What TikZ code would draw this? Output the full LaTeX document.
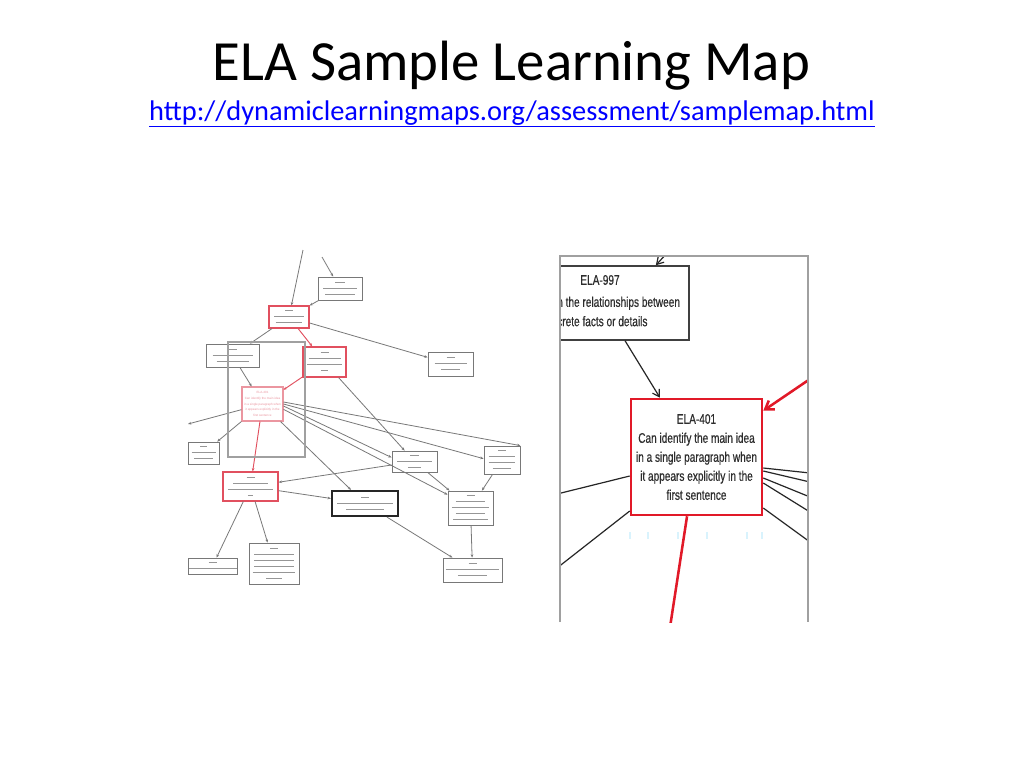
\documentclass[tikz,border=0pt]{standalone}
\usepackage{fontspec}
\setmainfont{Carlito}
\newfontfamily\arialf{Liberation Sans}
\newfontfamily\narrowf[FakeStretch=0.72,FakeBold=0.5]{Liberation Sans}
\usetikzlibrary{arrows.meta,calc}
\definecolor{linkblue}{RGB}{0,0,255}
\definecolor{barc}{RGB}{150,150,150}
\definecolor{lgray}{RGB}{120,120,120}
\definecolor{framegray}{RGB}{160,160,160}
\definecolor{pinkred}{RGB}{225,80,95}
\definecolor{lightpink}{RGB}{235,150,160}
\definecolor{boxred}{RGB}{225,25,40}
\definecolor{textdark}{RGB}{45,45,45}
\newcommand\tb[1]{\textcolor{barc}{\rule[0.3pt]{#1pt}{0.9pt}}}
\begin{document}
\begin{tikzpicture}[x=0.75pt,y=-0.75pt,
  lbox/.style={draw=lgray,fill=white,line width=0.6pt,inner sep=0pt,align=center,
    font=\fontsize{3}{4.5}\selectfont},
  lred/.style={lbox,draw=pinkred,line width=0.9pt},
  lpink/.style={lbox,draw=lightpink,line width=0.8pt},
  lthick/.style={lbox,draw=black!85,line width=1.6pt},
  le/.style={draw=lgray,line width=0.6pt,-{Stealth[length=2.5pt,width=2pt]}},
  lre/.style={le,draw=pinkred,line width=0.7pt},
  rbox/.style={draw=boxred,fill=white,line width=1.9pt,inner sep=0pt,align=center,
    text=textdark,font=\narrowf\fontsize{10.5}{14.25}\selectfont},
  gbox/.style={draw=black!75,fill=white,line width=1.1pt,inner sep=0pt},
  rtxt/.style={inner sep=0pt,text=textdark,font=\narrowf\fontsize{10.5}{14.5}\selectfont},
  re/.style={draw=black!85,line width=0.9pt},
  rea/.style={re,-{Straight Barb[length=5pt,width=6pt,line width=0.9pt]}},
  rred/.style={draw=boxred,line width=1.9pt},
  rreda/.style={rred,-{Straight Barb[length=6pt,width=8pt,line width=1.9pt]}},
]
\useasboundingbox[fill=white] (0,0) rectangle (1024,768);

% ---------- title ----------
\node[anchor=base,inner sep=0pt,font=\fontsize{42.6}{50}\selectfont] (title) at (511.5,80) {ELA Sample Learning Map};
\node[anchor=base,inner sep=0pt,font=\fontsize{21.3}{25}\selectfont,text=linkblue] (link) at (512,120)
  {\color{linkblue}\underline{http://dynamiclearningmaps.org/assessment/samplemap.html}};

% ---------- left map: nodes ----------
\node[lbox,minimum width=33pt,minimum height=17.25pt] (A) at (340,288.5) {\tb{7}\\\tb{25}\\\tb{22}};
\node[lred,minimum width=30pt,minimum height=16.5pt] (B) at (289,317) {\tb{6}\\\tb{22}\\\tb{20}};
\node[lbox,minimum width=33.75pt,minimum height=18pt] (C) at (450.5,364) {\tb{6}\\\tb{24}\\\tb{14}};
\node[lbox,minimum width=39.75pt,minimum height=17.25pt] (D) at (232.5,355.5) {\tb{6}\\\tb{30}\\\tb{24}};
\node[lred,minimum width=32.25pt,minimum height=22.5pt] (E) at (324.5,362) {\tb{6}\\\tb{24}\\\tb{26}\\\tb{5}};
\node[lpink,minimum width=30.75pt,minimum height=25.5pt,text=lightpink,
      font=\arialf\fontsize{2.3}{4.4}\selectfont] (F) at (262.5,404)
  {ELA-401\\Can identify the main idea\\in a single paragraph when\\it appears explicitly in the\\first sentence};
\node[lbox,minimum width=23.25pt,minimum height=16.5pt] (G) at (203.5,453) {\tb{5}\\\tb{18}\\\tb{14}};
\node[lred,minimum width=41.25pt,minimum height=21.75pt] (H) at (250.5,486.5) {\tb{6}\\\tb{26}\\\tb{34}\\\tb{4}};
\node[lbox,minimum width=33.75pt,minimum height=15.75pt] (I) at (414.5,461.5) {\tb{7}\\\tb{26}\\\tb{10}};
\node[lbox,minimum width=27pt,minimum height=21pt] (J) at (502,460) {\tb{6}\\\tb{20}\\\tb{20}\\\tb{14}};
\node[lbox,minimum width=33.75pt,minimum height=25.5pt] (K) at (470.5,508) {\tb{6}\\\tb{22}\\\tb{28}\\\tb{22}\\\tb{26}};
\node[lthick,minimum width=49.5pt,minimum height=18.75pt] (L) at (365,503.5) {\tb{6}\\\tb{42}\\\tb{28}};
\node[lbox,minimum width=44.25pt,minimum height=18pt] (M) at (472.5,570) {\tb{6}\\\tb{40}\\\tb{22}};
\node[lbox,minimum width=36.75pt,minimum height=12pt] (N) at (212.5,566) {\tb{6}\\\tb{36}};
\node[lbox,minimum width=37.5pt,minimum height=30.75pt] (O) at (274,563.5) {\tb{6}\\\tb{30}\\\tb{30}\\\tb{30}\\\tb{32}\\\tb{12}};

\coordinate (t1) at (303,250);
\coordinate (t2) at (322,257);
\coordinate (l1) at (188,424);

% ---------- left map: edges ----------
\draw[le] (t1) -- (B);
\draw[le] (t2) -- (A);
\draw[le] (A) -- (B);
\draw[le] (B) -- (C);
\draw[le] (B) -- (D);
\draw[lre] (B) -- (E);
\draw[le] (D) -- (F);
\draw[lre] (E) -- (F);
\draw[le] (F) -- (l1);
\draw[le] (F) -- (G);
\draw[lre] (F) -- (H);
\draw[le] ([yshift=1.5pt]F.east) -- (J.north east);
\draw[le] (F.east) -- ([yshift=1pt]J.west);
\draw[le] ([yshift=-1.5pt]F.east) -- ([yshift=3pt]I.west);
\draw[le] ([yshift=-4pt]F.east) -- ([yshift=10pt]K.west);
\draw[le] (F) -- (L);
\draw[le] (E) -- (I);
\draw[le] (I) -- (H);
\draw[le] (H) -- (L);
\draw[le] (I) -- (K);
\draw[le] (J) -- (K);
\draw[le] (K) -- (M);
\draw[le] (L) -- (M);
\draw[le] (H) -- (N);
\draw[le] (H) -- (O);

% viewport frame
\node[draw=framegray,line width=2.1pt,inner sep=0pt,minimum width=57.75pt,minimum height=86.25pt] (vf) at (266.5,399.5) {};

% ---------- right panel ----------
\begin{scope}
\clip (560,255) rectangle (808,622);
\node[gbox,minimum width=111.75pt,minimum height=55.5pt] (e997box) at (614.5,303) {};
\node[rtxt] (e997id) at (600,280) {ELA-997};
\node[rtxt,anchor=west,align=left] (e997t) at (557,311.5) {n the relationships between\\crete facts or details};

\node[rbox,minimum width=98.25pt,minimum height=87pt] (r401) at (696.5,457)
  {ELA-401\\Can identify the main idea\\in a single paragraph when\\it appears explicitly in the\\first sentence};

\coordinate (topin) at (668,252);
\coordinate (rin) at (810,379);
\coordinate (rout) at (670.5,624);
\coordinate (ra) at (810,473);
\coordinate (rb) at (810,482);
\coordinate (rc) at (810,497);
\coordinate (rd) at (810,512);
\coordinate (rf) at (810,542);
\coordinate (la) at (557,494);
\coordinate (lb) at (557,568);

\draw[rea] (topin) -- ([xshift=31pt]e997box.north);
\draw[rea] ([xshift=7.9pt]e997box.south) -- ([xshift=-27.4pt]r401.north);
\draw[rreda] (rin) -- ([yshift=-9.75pt]r401.north east);
\draw[rred] ([xshift=-7.1pt]r401.south) -- (rout);
\draw[re] ([yshift=-8.25pt]r401.east) -- (ra);
\draw[re] ([yshift=-10.5pt]r401.east) -- (rb);
\draw[re] ([yshift=-15.75pt]r401.east) -- (rc);
\draw[re] ([yshift=-19.5pt]r401.east) -- (rd);
\draw[re] ([yshift=-38.25pt]r401.east) -- (rf);
\draw[re] ([yshift=-14.25pt]r401.west) -- (la);
\draw[re] ([yshift=-40.5pt]r401.west) -- (lb);
\foreach \mx in {630,648,678,707,747,762}
  \draw[cyan!15,line width=1pt] (\mx,532) -- (\mx,539);
\end{scope}
\coordinate (fa) at (560,256);
\coordinate (fb) at (808,256);
\coordinate (fc) at (560,622);
\coordinate (fd) at (808,622);
\draw[framegray,line width=2pt] (fc) -- (fa) -- (fb) -- (fd);
\end{tikzpicture}
\end{document}
